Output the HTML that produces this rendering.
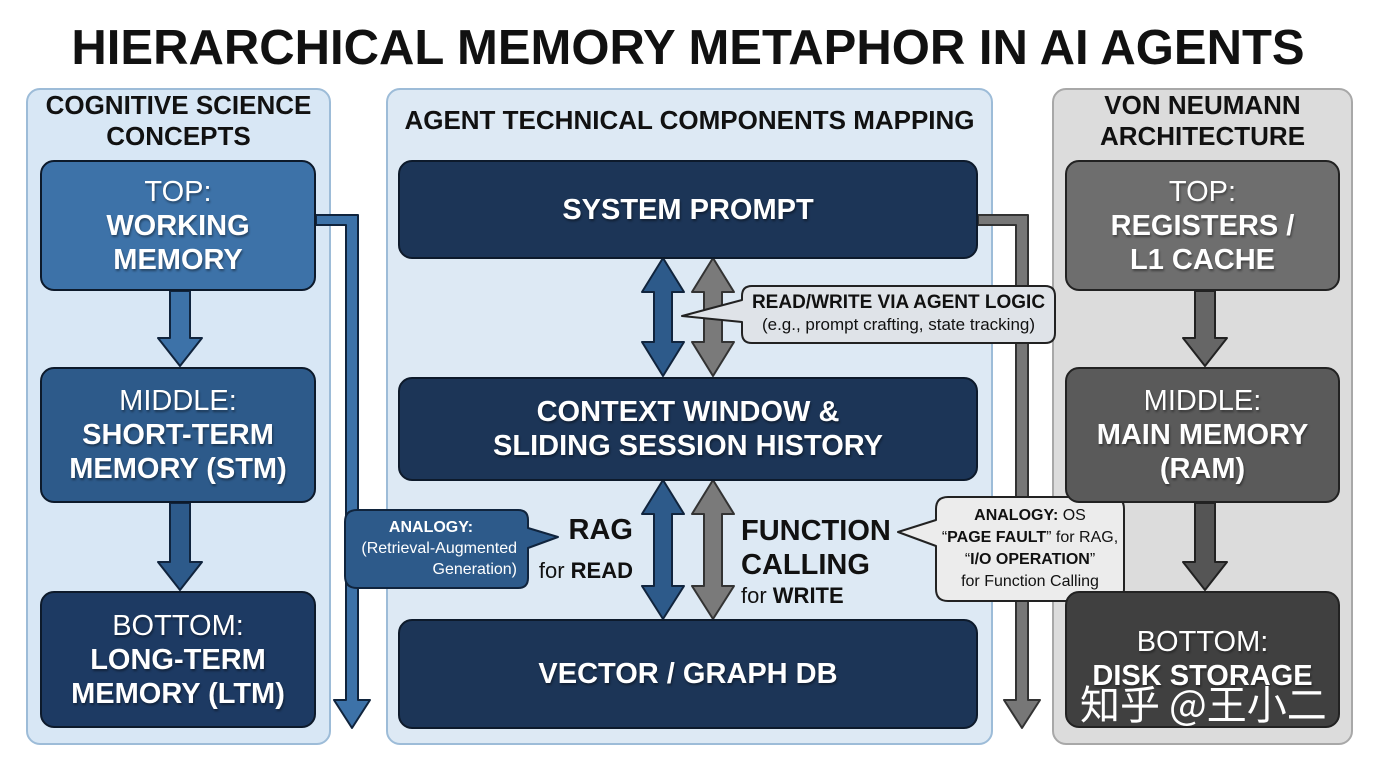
<!DOCTYPE html>
<html><head><meta charset="utf-8"><style>
*{margin:0;padding:0;box-sizing:border-box}
body{width:1376px;height:768px;background:#fff;position:relative;overflow:hidden;font-family:"Liberation Sans","Noto Sans CJK SC",sans-serif}
.a{position:absolute}
.t{text-align:center;font-weight:bold}
.panel{position:absolute;border-radius:14px;border:2px solid}
.box{position:absolute;border:2px solid #0d1a2b;border-radius:14px;color:#fff;text-align:center;display:flex;flex-direction:column;justify-content:center;align-items:center;font-size:29px;line-height:34px;text-shadow:1px 2px 2px rgba(0,0,0,.4)}
.box .l{font-weight:normal}
.box b{font-weight:bold}
</style></head><body>
<div class="a t" style="left:0;width:1376px;top:18px;font-size:49px;line-height:60px;color:#111">HIERARCHICAL MEMORY METAPHOR IN AI AGENTS</div>

<div class="panel" style="left:26px;top:88px;width:305px;height:657px;background:#d8e7f5;border-color:#9dbcd8"></div>
<div class="a t" style="left:26px;width:305px;top:90px;font-size:26px;line-height:31px;color:#111">COGNITIVE SCIENCE<br>CONCEPTS</div>
<div class="panel" style="left:386px;top:88px;width:607px;height:657px;background:#dde9f4;border-color:#9dbcd8"></div>
<div class="a t" style="left:386px;width:607px;top:105px;font-size:26px;line-height:31px;color:#111">AGENT TECHNICAL COMPONENTS MAPPING</div>
<div class="panel" style="left:1052px;top:88px;width:301px;height:657px;background:#dcdcdc;border-color:#a8a8a8"></div>
<div class="a t" style="left:1052px;width:301px;top:90px;font-size:26px;line-height:31px;color:#111">VON NEUMANN<br>ARCHITECTURE</div>

<svg class="a" style="left:0;top:0" width="1376" height="768">
<g stroke="#10243d" stroke-width="2" stroke-linejoin="round">
<path d="M170 291 V338 H158 L180 366 L202 338 H190 V291Z" fill="#3d72a8"/>
<path d="M170 503 V562 H158 L180 590 L202 562 H190 V503Z" fill="#2d5a8a"/>
<path d="M316 215 H358 V700 H370 L352 728 L334 700 H346 V225 H316Z" fill="#3d72a8"/>
<path d="M663 258 L684 292 H672 V342 H684 L663 376 L642 342 H654 V292 H642Z" fill="#2d5a8a"/>
<path d="M713 258 L734 292 H722 V342 H734 L713 376 L692 342 H704 V292 H692Z" fill="#7a7a7a" stroke="#333"/>
<path d="M663 480 L684 514 H672 V586 H684 L663 619 L642 586 H654 V514 H642Z" fill="#2d5a8a"/>
<path d="M713 480 L734 514 H722 V586 H734 L713 619 L692 586 H704 V514 H692Z" fill="#7a7a7a" stroke="#333"/>
<path d="M978 215 H1028 V700 H1040 L1022 728 L1004 700 H1016 V225 H978Z" fill="#777" stroke="#333"/>
<path d="M1195 291 V338 H1183 L1205 366 L1227 338 H1215 V291Z" fill="#666" stroke="#222"/>
<path d="M1195 503 V562 H1183 L1205 590 L1227 562 H1215 V503Z" fill="#555" stroke="#222"/>
<path d="M752 286 H1045 Q1055 286 1055 296 V333 Q1055 343 1045 343 H752 Q742 343 742 333 V322 L682 316 L742 300 V296 Q742 286 752 286Z" fill="#dfe3e8" stroke="#222"/>
<path d="M357 510 H518 Q528 510 528 520 V528 L558 537 L528 548 V578 Q528 588 518 588 H357 Q345 588 345 576 V522 Q345 510 357 510Z" fill="#2d5a8a" stroke="#10243d"/>
<path d="M948 497 H1112 Q1124 497 1124 509 V589 Q1124 601 1112 601 H948 Q936 601 936 589 V546 L898 532 L936 520 V509 Q936 497 948 497Z" fill="#ececec" stroke="#222"/>
</g>
</svg>

<div class="box" style="left:40px;top:160px;width:276px;height:131px;background:#3d72a8"><span class="l">TOP:</span><b>WORKING<br>MEMORY</b></div>
<div class="box" style="left:40px;top:367px;width:276px;height:136px;background:#2d5a8a"><span class="l">MIDDLE:</span><b>SHORT-TERM<br>MEMORY (STM)</b></div>
<div class="box" style="left:40px;top:591px;width:276px;height:137px;background:#1d3a63"><span class="l">BOTTOM:</span><b>LONG-TERM<br>MEMORY (LTM)</b></div>

<div class="box" style="left:398px;top:160px;width:580px;height:99px;background:#1c3557"><b>SYSTEM PROMPT</b></div>
<div class="box" style="left:398px;top:377px;width:580px;height:104px;background:#1c3557"><b>CONTEXT WINDOW &amp;<br>SLIDING SESSION HISTORY</b></div>
<div class="box" style="left:398px;top:619px;width:580px;height:110px;background:#1c3557"><b>VECTOR / GRAPH DB</b></div>

<div class="box" style="left:1065px;top:160px;width:275px;height:131px;background:#6e6e6e;border-color:#222"><span class="l">TOP:</span><b>REGISTERS /<br>L1 CACHE</b></div>
<div class="box" style="left:1065px;top:367px;width:275px;height:136px;background:#5a5a5a;border-color:#222"><span class="l">MIDDLE:</span><b>MAIN MEMORY<br>(RAM)</b></div>
<div class="box" style="left:1065px;top:591px;width:275px;height:137px;background:#404040;border-color:#222;justify-content:flex-start;padding-top:32px"><span class="l">BOTTOM:</span><b>DISK STORAGE</b></div>
<div class="a" style="left:1080px;top:680px;font-size:40px;line-height:44px;color:#fff;font-family:'Noto Sans CJK SC',sans-serif">知乎 @王小二</div>

<div class="a" style="left:742px;top:292px;width:313px;text-align:center;font-size:19px;line-height:22px;color:#111"><b>READ/WRITE VIA AGENT LOGIC</b><br><span style="font-size:17px">(e.g., prompt crafting, state tracking)</span></div>
<div class="a" style="left:345px;top:517px;width:180px;text-align:right;padding-right:8px;font-size:16px;line-height:21px;color:#fff"><b style="display:block;text-align:center">ANALOGY:</b>(Retrieval-Augmented<br>Generation)</div>
<div class="a" style="left:936px;top:505px;width:188px;text-align:center;font-size:16px;line-height:22px;color:#111"><b>ANALOGY:</b> OS<br>“<b>PAGE FAULT</b>” for RAG,<br>“<b>I/O OPERATION</b>”<br>for Function Calling</div>

<div class="a" style="left:538px;top:514px;width:95px;text-align:right;font-size:29px;font-weight:bold;color:#111">RAG</div>
<div class="a" style="left:538px;top:558px;width:95px;text-align:right;font-size:22px;color:#111">for <b>READ</b></div>
<div class="a" style="left:741px;top:514px;font-size:29px;line-height:34px;font-weight:bold;color:#111">FUNCTION<br>CALLING</div>
<div class="a" style="left:741px;top:583px;font-size:22px;color:#111">for <b>WRITE</b></div>
</body></html>
